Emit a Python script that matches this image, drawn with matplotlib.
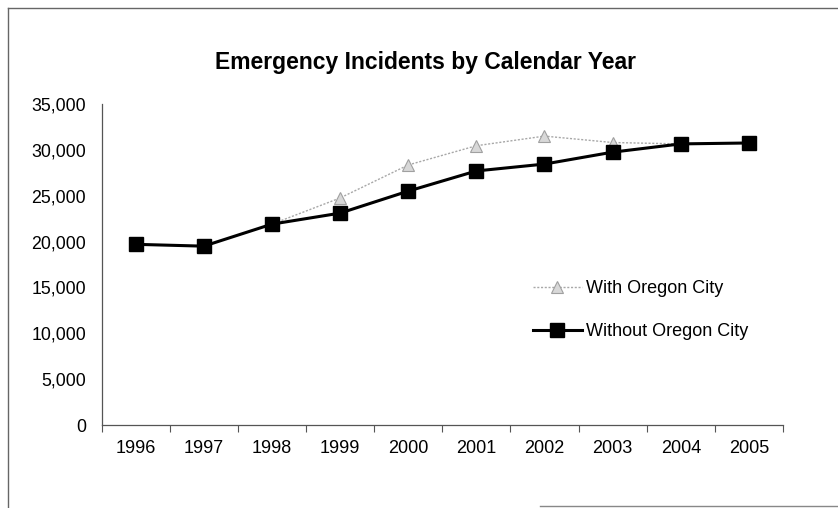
import matplotlib
matplotlib.use("Agg")
import matplotlib.pyplot as plt
from matplotlib.lines import Line2D

plt.rcParams['font.family'] = ['Liberation Sans', 'DejaVu Sans']

years = ['1996', '1997', '1998', '1999', '2000', '2001', '2002', '2003', '2004', '2005']
with_oc = [19700, 19500, 21900, 24750, 28350, 30450, 31500, 30800, 30650, 30750]
without_oc = [19700, 19500, 21900, 23100, 25500, 27700, 28450, 29750, 30650, 30750]
y_ticks = [0, 5000, 10000, 15000, 20000, 25000, 30000, 35000]
y_tick_labels = ['0', '5,000', '10,000', '15,000', '20,000', '25,000', '30,000', '35,000']

W, H = 838, 508
fig = plt.figure(figsize=(W / 100, H / 100), dpi=100)
ax = fig.add_axes([101.5 / W, (H - 425) / H, 681.5 / W, 321 / H])

x = list(range(len(years)))
ax.plot(x, with_oc, color='#a8a8a8', lw=1.0, ls=(0, (1.5, 1.2)), marker='^',
        markersize=8, markerfacecolor='#d8d8d8', markeredgecolor='#a0a0a0',
        markeredgewidth=0.8, label='With Oregon City', zorder=2)
ax.plot(x, without_oc, color='black', lw=2.2, marker='s', markersize=10,
        markerfacecolor='black', markeredgecolor='black',
        label='Without Oregon City', zorder=3)

ax.set_xlim(-0.5, len(years) - 0.5)
ax.set_ylim(0, 35000)

# category labels centered, ticks between categories
ax.set_xticks([i - 0.5 for i in range(len(years) + 1)])
ax.set_xticklabels([])
ax.set_xticks(x, minor=True)
ax.set_xticklabels(years, minor=True, fontsize=13)
ax.tick_params(axis='x', which='major', direction='out', length=5, width=0.8, color='#555555')
ax.tick_params(axis='x', which='minor', length=0, pad=11)

ax.set_yticks(y_ticks)
ax.set_yticklabels(y_tick_labels, fontsize=12.8)
ax.tick_params(axis='y', length=0, pad=11)

for s in ['top', 'right']:
    ax.spines[s].set_visible(False)
ax.spines['left'].set_color('#555555')
ax.spines['bottom'].set_color('#555555')
ax.spines['left'].set_linewidth(0.9)
ax.spines['bottom'].set_linewidth(0.9)

fig.text(425 / W, 1 - 62 / H, 'Emergency Incidents by Calendar Year',
         ha='center', va='center', fontsize=16.5, fontweight='bold')

leg = ax.legend(loc='upper left', bbox_to_anchor=(524 / W, 1 - 271 / H),
                bbox_transform=fig.transFigure, frameon=False, fontsize=13,
                handlelength=2.7, handletextpad=0.25, labelspacing=1.45,
                borderpad=0)

# outer chart border (left and top visible)
fig.add_artist(Line2D([8 / W, 8 / W], [1 - 8 / H, 0], transform=fig.transFigure,
                      color='#666666', lw=1.0))
fig.add_artist(Line2D([8 / W, 1], [1 - 8 / H, 1 - 8 / H], transform=fig.transFigure,
                      color='#666666', lw=1.0))
fig.add_artist(Line2D([540 / W, 1], [1 - 506 / H, 1 - 506 / H], transform=fig.transFigure,
                      color='#888888', lw=1.0))

fig.savefig('out.png', dpi=100)
